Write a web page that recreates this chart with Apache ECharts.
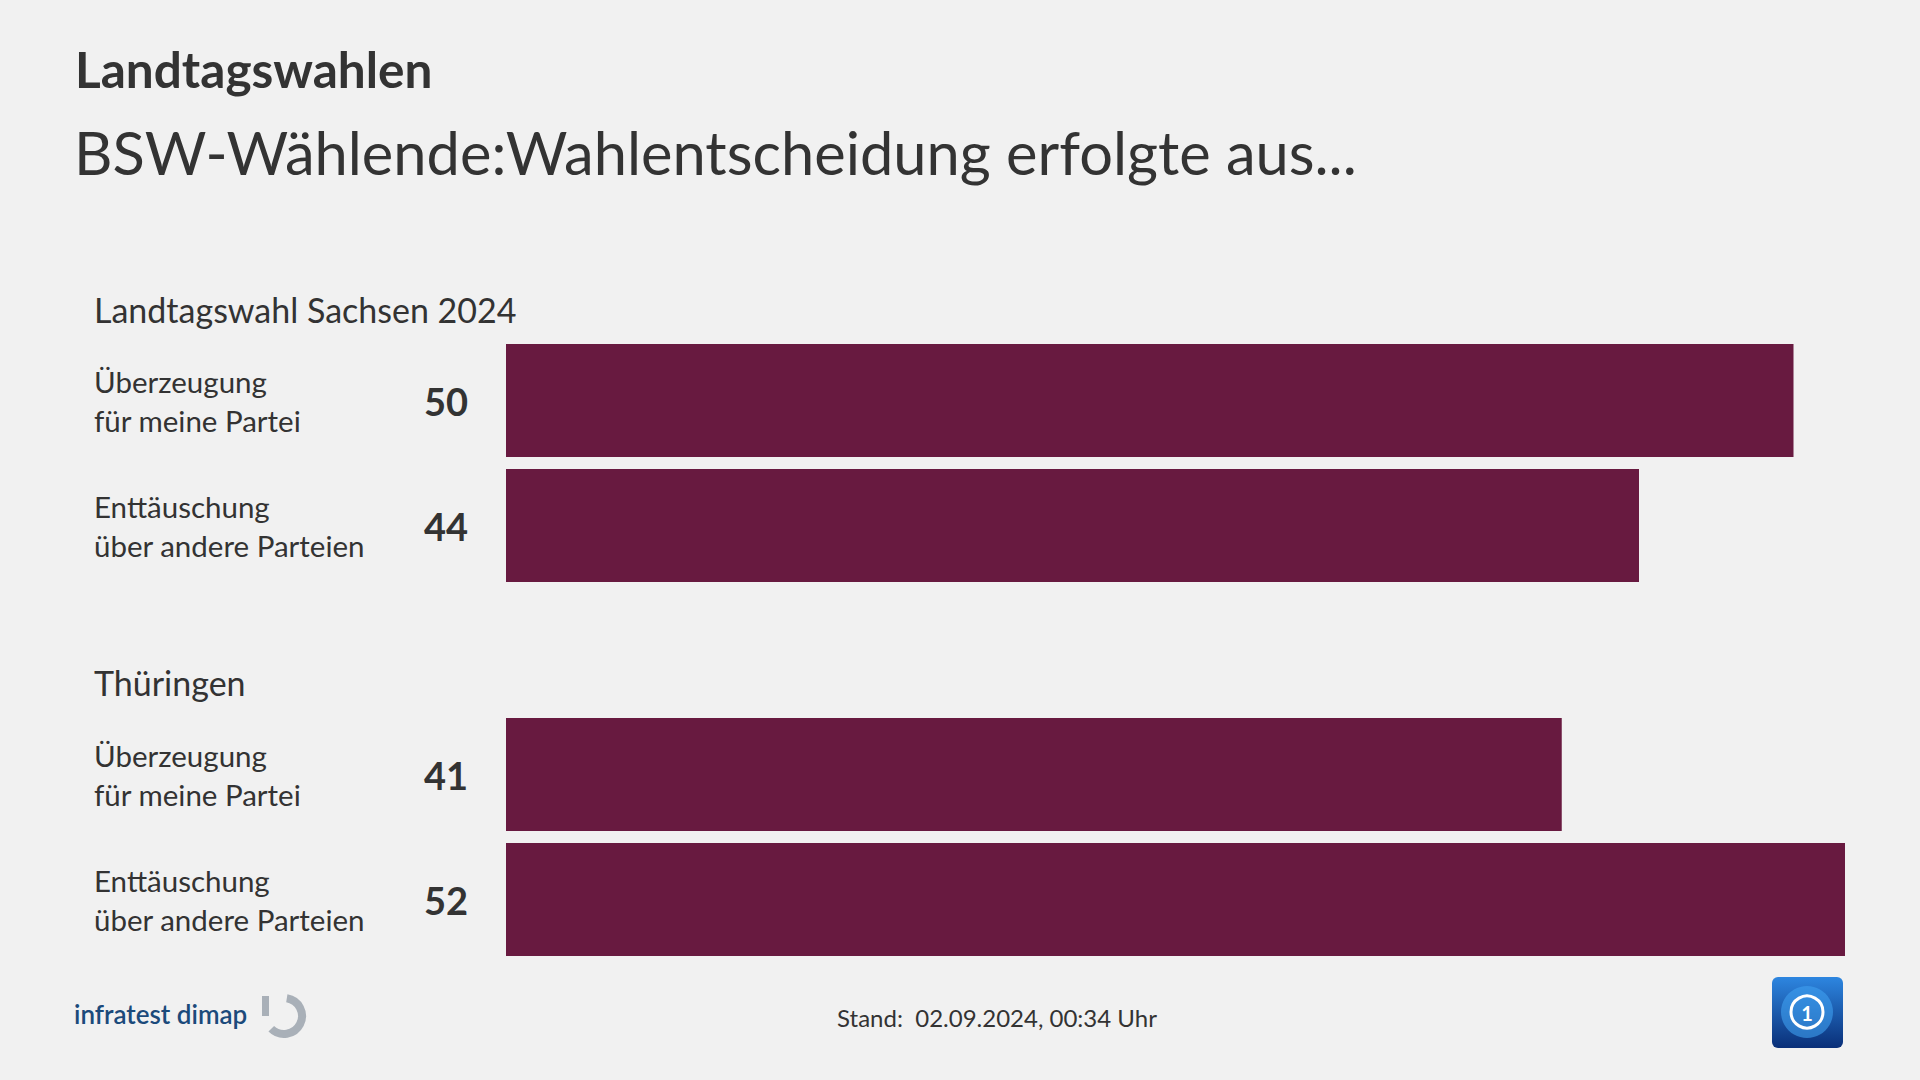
<!DOCTYPE html>
<html><head><meta charset="utf-8">
<script src="https://cdn.jsdelivr.net/npm/echarts@6/dist/echarts.min.js"></script>
<style>html,body{margin:0;padding:0;background:#f1f1f1;}#c{width:1920px;height:1080px;}</style>
</head><body><div id="c"></div>
<script>
const titleText = 'Landtagswahlen';
const subtitleText = 'BSW-Wählende:Wahlentscheidung erfolgte aus...';
const groupNames = ['Landtagswahl Sachsen 2024', 'Thüringen'];
const categories = ['Überzeugung\nfür meine Partei', 'Enttäuschung\nüber andere Parteien'];
const sachsenValues = [50, 44];
const thueringenValues = [41, 52];
const footerText = 'Stand:  02.09.2024, 00:34 Uhr';
const sourceText = 'infratest dimap';

const FONT = 'Lato, "Open Sans", sans-serif';
const TXT = '#333333';
const BAR = '#681a40';
const maxVal = Math.max(...sachsenValues, ...thueringenValues);

function grid(top) { return { left: 506, right: 75, top: top, height: 250 }; }
function xAxis(i) { return { gridIndex: i, type: 'value', min: 0, max: maxVal, show: false }; }
function yAxis(i) {
  return {
    gridIndex: i, type: 'category', data: categories, inverse: true,
    axisLine: { show: false }, axisTick: { show: false }, splitLine: { show: false },
    axisLabel: { align: 'left', margin: 412, fontFamily: FONT, fontSize: 29.5, lineHeight: 39, color: TXT }
  };
}
function series(i, data) {
  return {
    type: 'bar', xAxisIndex: i, yAxisIndex: i, data: data, barWidth: '90.4%',
    itemStyle: { color: BAR }, silent: true,
    label: { show: true, position: 'left', distance: 38, fontFamily: FONT, fontWeight: 'bold', fontSize: 38, color: TXT }
  };
}
function txt(text, x, y, size, weight, color, align) {
  return { type: 'text', x: x, y: y, silent: true,
    style: { text: text, font: weight + ' ' + size + 'px ' + FONT, fill: color || TXT, verticalAlign: 'middle', align: align || 'left' } };
}

const chart = echarts.init(document.getElementById('c'), null, { renderer: 'svg' });
chart.setOption({
  backgroundColor: '#f1f1f1',
  animation: false,
  grid: [grid(338), grid(712)],
  xAxis: [xAxis(0), xAxis(1)],
  yAxis: [yAxis(0), yAxis(1)],
  series: [series(0, sachsenValues), series(1, thueringenValues)],
  graphic: [
    txt(titleText, 75, 69, 49.5, 'bold'),
    txt(subtitleText, 74, 152, 59.6, 'normal'),
    txt(groupNames[0], 94, 309, 34, 'normal'),
    txt(groupNames[1], 94, 682, 34, 'normal'),
    txt(footerText, 997, 1017, 24, 'normal', '#333', 'center'),
    txt(sourceText, 74, 1014, 26, '600', '#1b4a7b'),
    { type: 'rect', silent: true, shape: { x: 262, y: 996, width: 7, height: 20 }, style: { fill: '#a9b0b8' } },
    { type: 'arc', silent: true, shape: { cx: 284, cy: 1016, r: 18, startAngle: -Math.PI * 0.45, endAngle: Math.PI * 0.75 }, style: { stroke: '#a9b0b8', lineWidth: 8, fill: 'none' } },
    { type: 'rect', silent: true, shape: { x: 1772, y: 977, width: 71, height: 71, r: 6 },
      style: { fill: new echarts.graphic.LinearGradient(0, 0, 0, 1, [{ offset: 0, color: '#2d86e0' }, { offset: 1, color: '#0a2f78' }]) } },
    { type: 'circle', silent: true, shape: { cx: 1807, cy: 1012, r: 26 }, style: { fill: '#3fa0f0', opacity: 0.6 } },
    { type: 'circle', silent: true, shape: { cx: 1807, cy: 1012, r: 16 }, style: { stroke: '#ffffff', lineWidth: 3, fill: 'none' } },
    txt('1', 1807, 1013, 20, 'bold', '#ffffff', 'center')
  ]
});
</script></body></html>
